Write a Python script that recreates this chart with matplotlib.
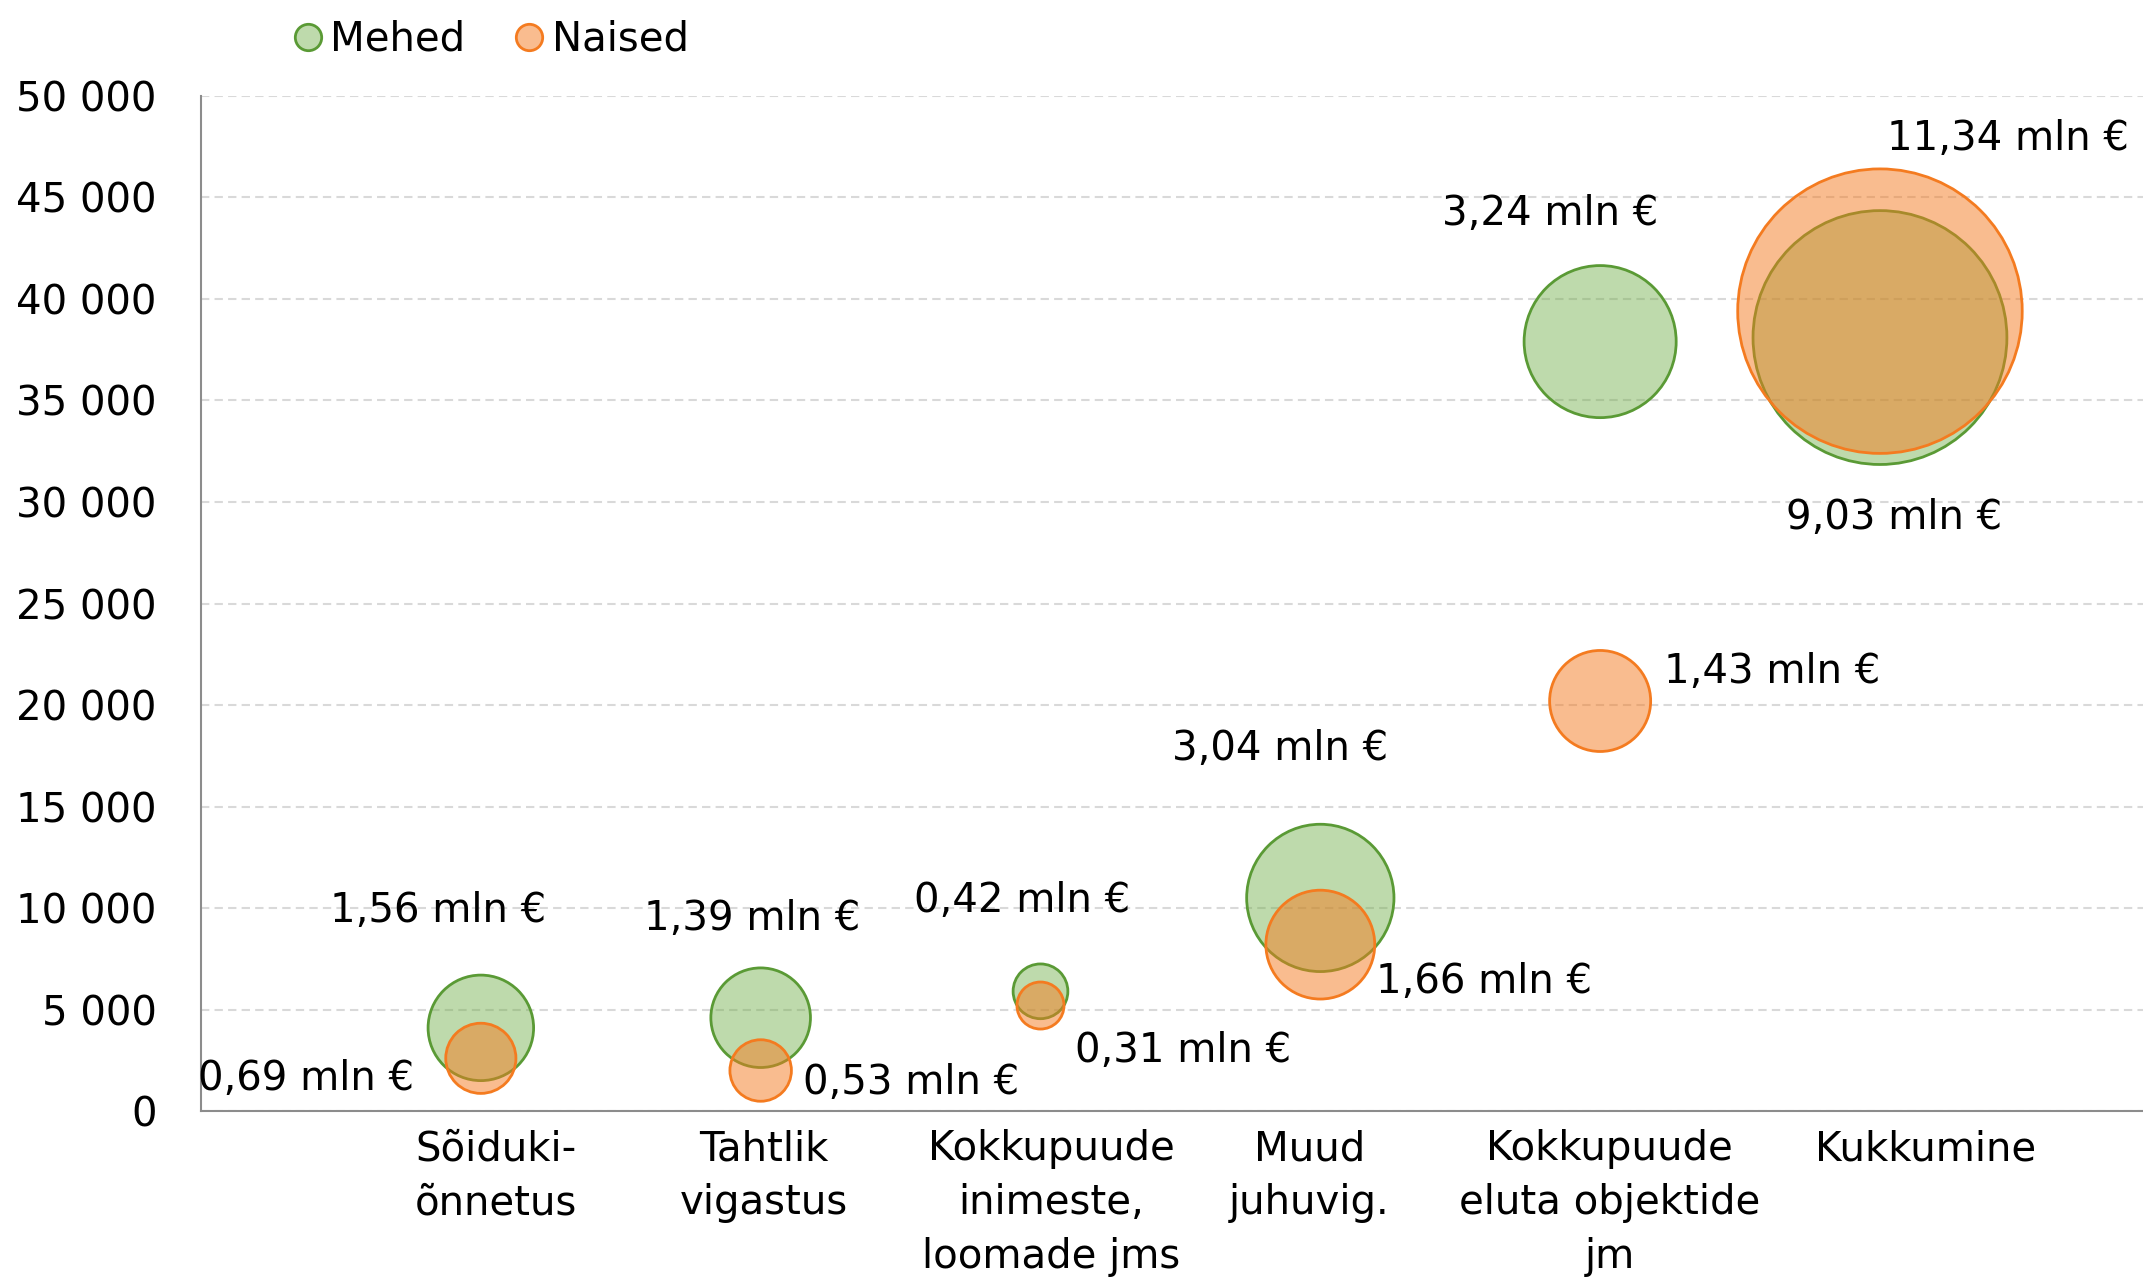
import numpy as np
import matplotlib.pyplot as plt
from matplotlib.colors import to_rgba
from matplotlib.lines import Line2D
from matplotlib.ticker import FuncFormatter, MultipleLocator
import matplotlib.transforms as mtransforms


categories = [
    "Sõiduki-\nõnnetus",
    "Tahtlik\nvigastus",
    "Kokkupuude\ninimeste,\nloomade jms",
    "Muud\njuhuvig.",
    "Kokkupuude\neluta objektide\njm",
    "Kukkumine",
]

# number of cases (y) and cost in mln € (bubble size)
mehed_count = [4100, 4600, 5900, 10500, 37900, 38100]
mehed_cost = [1.56, 1.39, 0.42, 3.04, 3.24, 9.03]

naised_count = [2600, 2000, 5200, 8200, 20200, 39400]
naised_cost = [0.69, 0.53, 0.31, 1.66, 1.43, 11.34]

# label offsets in points (layout only)
mehed_label_offsets = [(-31, 84), (-6, 71), (-13, 65), (-29, 107), (-36, 92), (10, -130)]
naised_label_offsets = [(-126, -15), (108, -9), (103, -33), (118, -27), (124, 21), (92, 124)]
category_label_shift = [11, 2, 8, -8, 7, 33]

GREEN = "#70AD47"
GREEN_EDGE = "#5A9A35"
ORANGE = "#F47B20"
FONT_SIZE = 29
BUBBLE_SCALE = 3700


def fmt_thousands(v, pos):
    return f"{int(round(v)):,}".replace(",", " ")


def fmt_cost(v):
    return f"{v:.2f}".replace(".", ",") + " mln €"


def draw_series(ax, x, counts, costs, face, edge, alpha, offsets):
    sizes = [BUBBLE_SCALE * c for c in costs]
    ax.scatter(
        x, counts, s=sizes,
        facecolors=[to_rgba(face, alpha)],
        edgecolors=edge, linewidths=2.0, zorder=3
    )
    for xi, yi, c, off in zip(x, counts, costs, offsets):
        ax.annotate(
            fmt_cost(c), (xi, yi), xytext=off, textcoords="offset points",
            ha="center", va="center", fontsize=FONT_SIZE, zorder=5,
            annotation_clip=False
        )


def plot_chart():
    plt.rcParams["font.family"] = ["DejaVu Sans"]

    fig = plt.figure(figsize=(21.43, 12.86), dpi=100)
    ax = fig.add_axes([0.0938, 0.136, 0.9062, 0.7894])

    x = np.arange(1, len(categories) + 1)

    draw_series(ax, x, mehed_count, mehed_cost, GREEN, GREEN_EDGE, 0.45,
                mehed_label_offsets)
    draw_series(ax, x, naised_count, naised_cost, ORANGE, ORANGE, 0.5,
                naised_label_offsets)

    ax.set_xlim(0, 6.94)
    ax.set_ylim(0, 50000)
    ax.yaxis.set_major_locator(MultipleLocator(5000))
    ax.yaxis.set_major_formatter(FuncFormatter(fmt_thousands))
    ax.set_xticks([])
    ax.tick_params(axis="y", length=0, pad=32, labelsize=FONT_SIZE)

    ax.grid(axis="y", color="#D9D9D9", linewidth=1.5,
            linestyle=(0, (4, 2.5)), zorder=0)
    ax.set_axisbelow(True)

    for side in ("top", "right"):
        ax.spines[side].set_visible(False)
    for side in ("left", "bottom"):
        ax.spines[side].set_color("#8C8C8C")
        ax.spines[side].set_linewidth(1.5)

    trans = mtransforms.blended_transform_factory(ax.transData, ax.transAxes)
    for xi, label, shift in zip(x, categories, category_label_shift):
        ax.annotate(
            label, (xi, 0), xycoords=trans, xytext=(shift, -13),
            textcoords="offset points", ha="center", va="top",
            multialignment="center", fontsize=FONT_SIZE, linespacing=1.45,
            annotation_clip=False
        )

    handles = [
        Line2D([], [], marker="o", linestyle="none", markersize=19,
               markerfacecolor=to_rgba(GREEN, 0.45),
               markeredgecolor=GREEN_EDGE, markeredgewidth=2.0),
        Line2D([], [], marker="o", linestyle="none", markersize=19,
               markerfacecolor=to_rgba(ORANGE, 0.5),
               markeredgecolor=ORANGE, markeredgewidth=2.0),
    ]
    fig.legend(
        handles, ["Mehed", "Naised"], loc="center",
        bbox_to_anchor=(0.2296, 0.969), ncol=2, frameon=False,
        fontsize=FONT_SIZE, handlelength=0.6, handletextpad=0.25,
        columnspacing=1.3
    )

    fig.savefig("out.png", dpi=100)


if __name__ == "__main__":
    plot_chart()
